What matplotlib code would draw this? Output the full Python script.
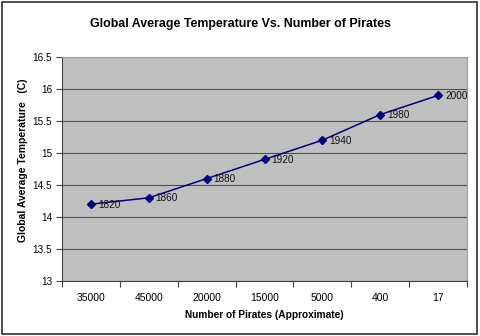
import matplotlib
matplotlib.use('Agg')
import matplotlib.pyplot as plt
from matplotlib.patches import Rectangle

plt.rcParams['font.family'] = ['Liberation Sans', 'DejaVu Sans']

# data
pirates = ['35000', '45000', '20000', '15000', '5000', '400', '17']
years = ['1820', '1860', '1880', '1920', '1940', '1980', '2000']
temps = [14.2, 14.3, 14.6, 14.9, 15.2, 15.6, 15.9]
yticks = [13, 13.5, 14, 14.5, 15, 15.5, 16, 16.5]

fig = plt.figure(figsize=(4.8, 3.36), dpi=100)
fig.patch.set_facecolor('white')
# outer chart border
fig.patches.append(Rectangle((2/480, 2/336), 475/480, 332/336, transform=fig.transFigure,
                             fill=False, edgecolor='#303030', linewidth=1.2))

ax = fig.add_axes([62/480, 1 - 281/336, 405/480, 224/336])
ax.set_facecolor('#c0c0c0')

xs = list(range(len(pirates)))
ax.plot(xs, temps, color='#000080', linewidth=1.1, marker='D', markersize=3.8, zorder=3)
for x, t, yr in zip(xs, temps, years):
    ax.annotate(yr, (x, t), xytext=(5, -0.5), textcoords='offset points',
                fontsize=7.2, va='center', ha='left', color='#111111', zorder=4)

ax.set_xlim(-0.5, len(pirates) - 0.5)
ax.set_ylim(13, 16.5)
ax.set_yticks(yticks)
ax.set_yticklabels([('%g' % v) for v in yticks], fontsize=7.2)
ax.set_xticks([i + 0.5 for i in range(-1, len(pirates))])
ax.set_xticklabels([])
ax.set_xticks(xs, minor=True)
ax.set_xticklabels(pirates, minor=True, fontsize=7.5)
ax.tick_params(axis='x', which='minor', length=0, pad=8.5)
ax.tick_params(axis='x', which='major', length=4, color='#404040', direction='out')
ax.tick_params(axis='y', length=4, color='#404040', direction='out', pad=3)

ax.grid(axis='y', color='#505050', linewidth=0.8)
ax.set_axisbelow(True)
for s in ['top', 'right']:
    ax.spines[s].set_color('#a0a0a0')
    ax.spines[s].set_linewidth(0.8)
for s in ['left', 'bottom']:
    ax.spines[s].set_color('#404040')
    ax.spines[s].set_linewidth(0.8)

fig.text(264/480, 1 - 315/336, 'Number of Pirates (Approximate)',
         ha='center', va='center', fontsize=7.3, fontweight='bold')
fig.text(23/480, 1 - 160/336, 'Global Average Temperature   (C)', rotation=90,
         ha='center', va='center', fontsize=7.5, fontweight='bold')
fig.text(0.5, 1 - 24/336, 'Global Average Temperature Vs. Number of Pirates',
         ha='center', va='center', fontsize=8.9, fontweight='bold')

plt.savefig('out.png', dpi=100)
